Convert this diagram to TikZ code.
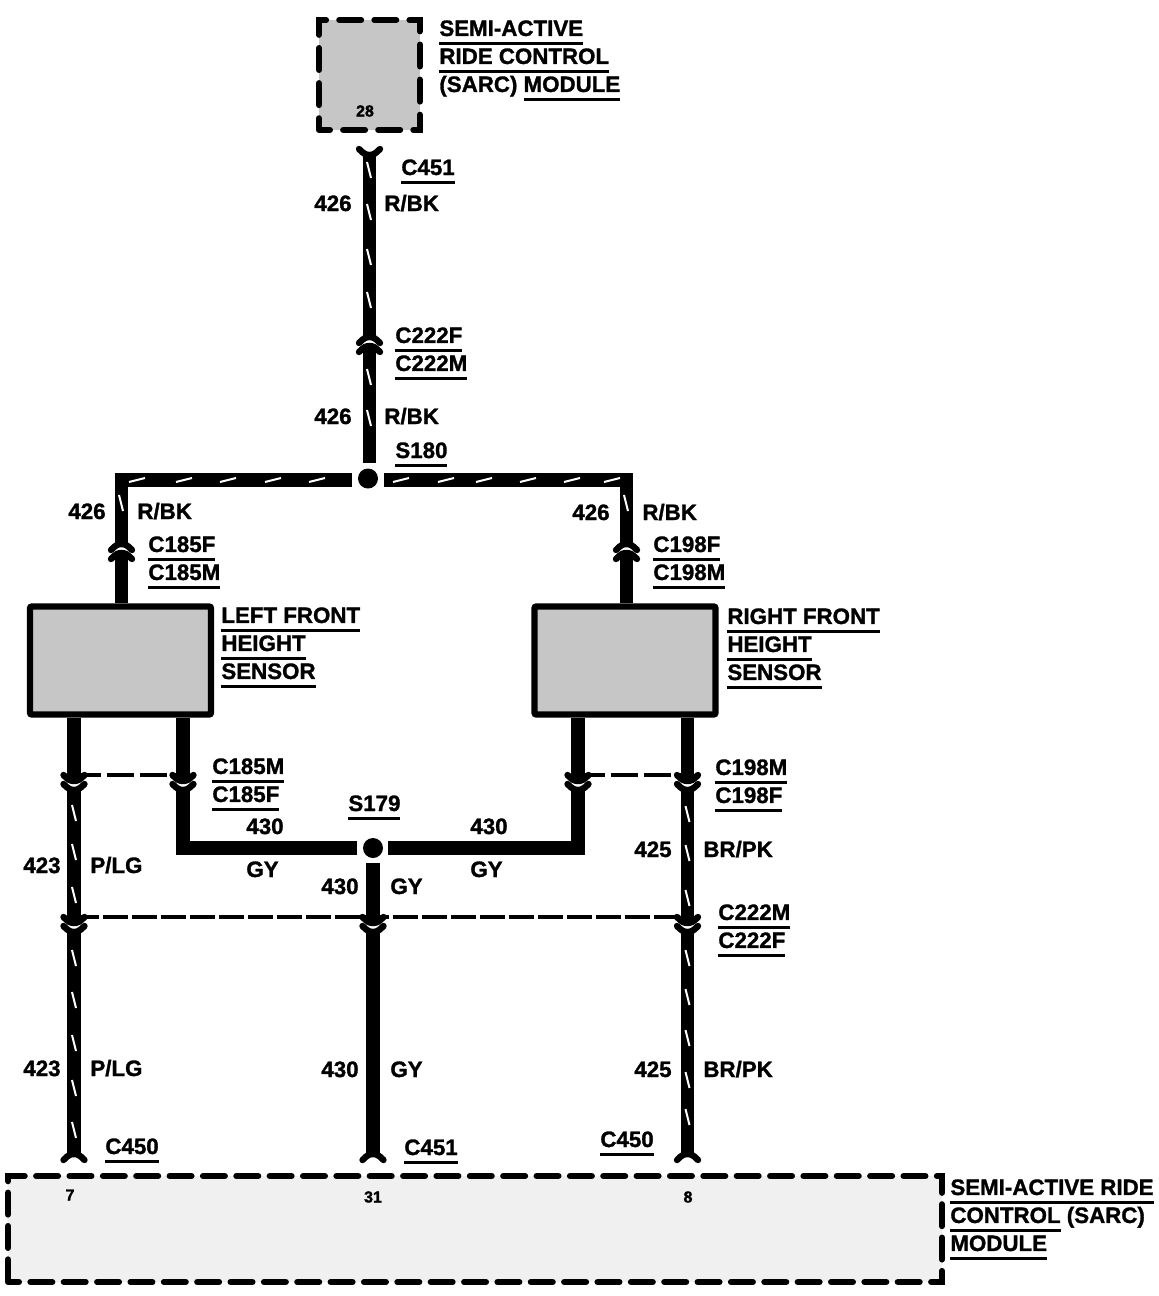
\documentclass[tikz,border=0pt]{standalone}
\usepackage{fontspec}
\setmainfont[BoldFeatures={FakeBold=1.3}]{Liberation Sans}
\usetikzlibrary{positioning}
\newcommand{\ul}[1]{\setbox0\hbox{#1}\rlap{\rule[-4.4pt]{\wd0}{1.2pt}}#1}

\begin{document}
\begin{tikzpicture}[x=0.5pt,y=-0.5pt]
	\tikzset{
		lab/.style = {anchor=base west, inner sep=0pt, font=\fontsize{11.15}{14}\selectfont\bfseries},
		multilab/.style = {anchor=north west, inner sep=0pt, align=left, font=\fontsize{11.15}{14}\selectfont\bfseries},
		pinlab/.style = {inner sep=0pt, font=\fontsize{8}{9}\selectfont\bfseries},
		wire/.style = {line width=6.8pt},
		tracer/.style = {white, line width=1pt},
		link/.style = {line width=1.7pt},
		splice/.style = {circle, fill=black, inner sep=0pt, minimum size=10pt},
		sensorbox/.style = {rectangle, draw, line width=3.2pt, fill=gray!45, rounded corners=1pt, minimum width=90.5pt, minimum height=54pt, inner sep=0pt},
		barbs/.pic = {\draw[line width=3.2pt, line cap=round] (-10.5,-6) .. controls (-6,-1) and (-3,0) .. (0,0) .. controls (3,0) and (6,-1) .. (10.5,-6);}
	}
	\useasboundingbox (0,0) rectangle (1158,1296);

	\node[rectangle, draw, line width=3pt, line cap=round, dash pattern=on 11pt off 6.55pt, dash phase=5.5pt, fill=gray!45, minimum width=50.5pt, minimum height=55pt, inner sep=0pt] (sarcTop) at (369.5,75) {};
	\node[rectangle, draw, line width=3pt, line cap=round, dash pattern=on 11pt off 5.68pt, dash phase=5.5pt, fill=gray!12, minimum width=467pt, minimum height=53pt, inner sep=0pt] (sarcBottom) at (475,1229) {};
	\node[sensorbox] (leftSensor) at (120.5,660.5) {};
	\node[sensorbox] (rightSensor) at (625,660.5) {};

	\node[splice] (s180) at (368,478.5) {};
	\node[splice] (s179) at (373,848) {};

	\coordinate (c451) at (369.5,155);
	\coordinate (c222a) at (369.5,337);
	\coordinate (c222b) at (369.5,346);
	\coordinate (s180n) at (369.5,463);
	\coordinate (s180w) at (352,480);
	\coordinate (s180e) at (384,480);
	\coordinate (c185a) at (121.5,544);
	\coordinate (c185b) at (121.5,553);
	\coordinate (c198a) at (626.5,544);
	\coordinate (c198b) at (626.5,553);
	\coordinate (s179w) at (357,848);
	\coordinate (s179e) at (388,848);
	\coordinate (s179s) at (373,863);
	\foreach \nm/\xx in {la/74,lb/183,ra/578,rb/687.5}{
		\coordinate (\nm up) at (\xx,781);
		\coordinate (\nm dn) at (\xx,790);
		\coordinate (\nm dash) at (\xx,775);
	}
	\foreach \nm/\xx in {lc/74,mc/373,rc/687.5}{
		\coordinate (\nm up) at (\xx,923);
		\coordinate (\nm dn) at (\xx,932);
		\coordinate (\nm dash) at (\xx,917);
		\coordinate (\nm end) at (\xx,1154);
	}

	\draw[wire] (c451) -- (c222a);
	\draw[wire] (c222b) -- (s180n);
	\draw[wire] (c185a) -- (c185a |- s180w) -- (s180w);
	\draw[wire] (c198a) -- (c198a |- s180e) -- (s180e);
	\draw[wire] (c185b) -- (c185b |- leftSensor.north);
	\draw[wire] (c198b) -- (c198b |- rightSensor.north);
	\draw[wire] (laup |- leftSensor.south) -- (laup);
	\draw[wire] (lbup |- leftSensor.south) -- (lbup);
	\draw[wire] (raup |- rightSensor.south) -- (raup);
	\draw[wire] (rbup |- rightSensor.south) -- (rbup);
	\draw[wire] (ladn) -- (lcup);
	\draw[wire] (rbdn) -- (rcup);
	\draw[wire] (lbdn) -- (lbdn |- s179w) -- (s179w);
	\draw[wire] (radn) -- (radn |- s179e) -- (s179e);
	\draw[wire] (s179s) -- (mcup);
	\draw[wire] (lcdn) -- (lcend);
	\draw[wire] (mcdn) -- (mcend);
	\draw[wire] (rcdn) -- (rcend);

	\draw[link, dash pattern=on 13.5pt off 3pt] (ladash) -- (lbdash);
	\draw[link, dash pattern=on 13.5pt off 3pt] (radash) -- (rbdash);
	\draw[link, dash pattern=on 12.5pt off 2pt] (lcdash) -- (rcdash);

	\foreach \pt in {c451,laup,ladn,lbup,lbdn,raup,radn,rbup,rbdn,lcup,lcdn,mcup,mcdn,rcup,rcdn}
		\pic at (\pt) {barbs};
	\foreach \pt in {c222a,c222b,c185a,c185b,c198a,c198b,lcend,mcend,rcend}
		\pic[yscale=-1] at (\pt) {barbs};

	\foreach \tx/\ty in {369/170,369/212,369/257,369/300,369/377,369/418,121/503,626/503,
		74/813,74/852,74/895,74/958,74/1000,74/1043,74/1088,74/1130,
		687.5/814,687.5/853,687.5/898,687.5/958,687.5/997,687.5/1038,687.5/1080,687.5/1117}
		\draw[tracer] (\tx,\ty) ++(-2,-8) -- ++(4,16);
	\foreach \tx in {137,184,228,273,317,401,446,484,528,572,612}
		\draw[tracer] (\tx,480) ++(-8,2) -- ++(16,-4);

	\node[multilab] (lblSarcTop) at (439,20) {\ul{SEMI-ACTIVE}\\\ul{RIDE CONTROL}\\(SARC) \ul{MODULE}};
	\node[multilab] (lblSarcBottom) at (950,1179) {\ul{SEMI-ACTIVE RIDE}\\\ul{CONTROL} (SARC)\\\ul{MODULE}};
	\node[multilab] (lblLeftSensor) at (221,607) {\ul{LEFT FRONT}\\\ul{HEIGHT}\\\ul{SENSOR}};
	\node[multilab] (lblRightSensor) at (727,608) {\ul{RIGHT FRONT}\\\ul{HEIGHT}\\\ul{SENSOR}};
	\node[multilab] (lblC222top) at (395,327) {\ul{C222F}\\\ul{C222M}};
	\node[multilab] (lblC185top) at (148,536) {\ul{C185F}\\\ul{C185M}};
	\node[multilab] (lblC198top) at (653,536) {\ul{C198F}\\\ul{C198M}};
	\node[multilab] (lblC185low) at (212,758) {\ul{C185M}\\\ul{C185F}};
	\node[multilab] (lblC198low) at (715,759) {\ul{C198M}\\\ul{C198F}};
	\node[multilab] (lblC222low) at (718,904) {\ul{C222M}\\\ul{C222F}};

	\node[lab] (lblC451top) at (401,175) {\ul{C451}};
	\node[lab] (lblS180) at (395,458) {\ul{S180}};
	\node[lab] (lblS179) at (348,811) {\ul{S179}};
	\node[lab] (lblC450l) at (105,1154) {\ul{C450}};
	\node[lab] (lblC451b) at (404,1155) {\ul{C451}};
	\node[lab] (lblC450r) at (600,1147) {\ul{C450}};

	\node[lab] (w426a) at (314,211) {426};
	\node[lab] (cRBKa) at (384,211) {R/BK};
	\node[lab] (w426b) at (314,424) {426};
	\node[lab] (cRBKb) at (384,424) {R/BK};
	\node[lab] (w426c) at (68,519) {426};
	\node[lab] (cRBKc) at (137,519) {R/BK};
	\node[lab] (w426d) at (572,520) {426};
	\node[lab] (cRBKd) at (642,520) {R/BK};
	\node[lab] (w430a) at (246,834) {430};
	\node[lab] (cGYa) at (246,877) {GY};
	\node[lab] (w430b) at (470,834) {430};
	\node[lab] (cGYb) at (470,877) {GY};
	\node[lab] (w430c) at (321,894) {430};
	\node[lab] (cGYc) at (390,894) {GY};
	\node[lab] (w423a) at (23,873) {423};
	\node[lab] (cPLGa) at (90,873) {P/LG};
	\node[lab] (w425a) at (634,857) {425};
	\node[lab] (cBRPKa) at (703,857) {BR/PK};
	\node[lab] (w423b) at (23,1076) {423};
	\node[lab] (cPLGb) at (90,1076) {P/LG};
	\node[lab] (w430d) at (321,1077) {430};
	\node[lab] (cGYd) at (390,1077) {GY};
	\node[lab] (w425b) at (634,1077) {425};
	\node[lab] (cBRPKb) at (703,1077) {BR/PK};

	\node[pinlab] (pin28) at (365,111) {28};
	\node[pinlab] (pin7) at (70,1195) {7};
	\node[pinlab] (pin31) at (373,1197) {31};
	\node[pinlab] (pin8) at (688,1197) {8};
\end{tikzpicture}
\end{document}
